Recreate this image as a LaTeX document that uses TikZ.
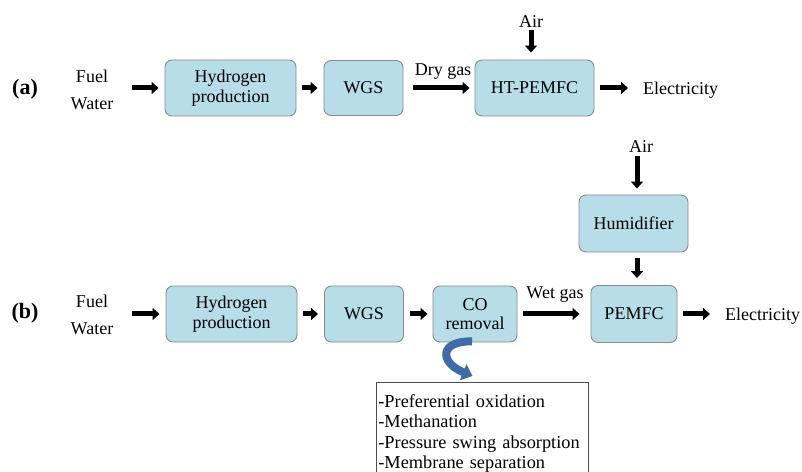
\documentclass[tikz,border=0pt]{standalone}
\usepackage{fontspec}
\setmainfont{Liberation Serif}
\usetikzlibrary{arrows.meta}
\definecolor{boxfill}{RGB}{183,221,232}
\definecolor{boxline}{RGB}{138,138,138}
\definecolor{curlblue}{RGB}{62,108,166}
\newcommand\diagfs{\fontsize{18bp}{19.5bp}\selectfont}
\newcommand\inputfs{\fontsize{18bp}{27bp}\selectfont}
\newcommand\listfs{\fontsize{18.3bp}{20.4bp}\selectfont}
\newcommand\partfs{\fontsize{22bp}{24bp}\selectfont\bfseries}
\begin{document}
\begin{tikzpicture}[x=1bp,y=-1bp,
  stage/.style={draw=boxline, fill=boxfill, line width=0.9bp, rounded corners=7bp,
    align=center, inner sep=0pt, font=\diagfs},
  lbl/.style={inner sep=0pt, font=\diagfs},
  feed/.style={inner sep=0pt, align=center, font=\inputfs},
  part/.style={inner sep=0pt, font=\partfs},
  arr/.style={line width=5bp, -{Triangle[length=7bp,width=12bp]}},
  curl/.style={line width=8bp, draw=curlblue, -{Triangle[length=10bp,width=17bp]}},
  methodbox/.style={draw=black!70, line width=0.8bp, fill=white, anchor=north west,
    align=left, text width=208bp, inner xsep=2bp, inner ysep=12bp, font=\listfs}
]
\clip (0,0) rectangle (802,472);
\fill[white] (0,0) rectangle (802,472);

% ---------- (a) HT-PEMFC route ----------
\node[part] (labelA) at (25,89) {(a)};
\node[feed] (inA) at (92,90) {Fuel\\Water};
\node[stage, minimum width=131bp, minimum height=56bp] (hpA) at (230.5,88) {Hydrogen\\production};
\node[stage, minimum width=79bp, minimum height=55bp] (wgsA) at (363.5,88) {WGS};
\node[stage, minimum width=119bp, minimum height=56bp] (htA) at (534.5,88) {HT-PEMFC};
\node[lbl, anchor=west] (elecA) at (643,90) {Electricity};
\node[lbl] (dryA) at (443,72) {Dry gas};
\node[lbl] (airA) at (531,22) {Air};

\draw[arr, shorten <=18.5bp, shorten >=6bp] (inA.east |- hpA.west) -- (hpA.west);
\draw[arr, shorten <=6bp, shorten >=6bp] (hpA.east) -- (wgsA.west);
\draw[arr, shorten <=10bp, shorten >=5bp] (wgsA.east) -- (htA.west);
\draw[arr, shorten <=6bp, shorten >=15bp] (htA.east) -- (htA.east -| elecA.west);
\draw[arr, shorten <=2bp, shorten >=7bp] (airA.south) -- (airA.south |- htA.north);

% ---------- (b) PEMFC route with CO clean-up ----------
\node[part] (labelB) at (25,313) {(b)};
\node[feed] (inB) at (92,315) {Fuel\\Water};
\node[stage, minimum width=131bp, minimum height=56bp] (hpB) at (231.5,314) {Hydrogen\\production};
\node[stage, minimum width=79bp, minimum height=56bp] (wgsB) at (364,314) {WGS};
\node[stage, minimum width=84bp, minimum height=56bp] (coB) at (475,314) {CO\\removal};
\node[stage, minimum width=86bp, minimum height=57bp] (pemB) at (634,314) {PEMFC};
\node[stage, minimum width=109bp, minimum height=57bp] (humB) at (633.5,223.5) {Humidifier};
\node[lbl, anchor=west] (elecB) at (725,316) {Electricity};
\node[lbl] (wetB) at (555,295) {Wet gas};
\node[lbl] (airB) at (641,147) {Air};

\draw[arr, shorten <=18.5bp, shorten >=6bp] (inB.east |- hpB.west) -- (hpB.west);
\draw[arr, shorten <=6bp, shorten >=6bp] (hpB.east) -- (wgsB.west);
\draw[arr, shorten <=6bp, shorten >=5bp] (wgsB.east) -- (coB.west);
\draw[arr, shorten <=6bp, shorten >=11bp] (coB.east) -- (pemB.west);
\draw[arr, shorten <=6bp, shorten >=15bp] (pemB.east) -- (pemB.east -| elecB.west);
\draw[arr, shorten <=3bp, shorten >=6bp] ([xshift=-4bp]airB.south) -- ([xshift=-4bp]airB.south |- humB.north);
\draw[arr, shorten <=6bp, shorten >=7bp] ([xshift=3.5bp]humB.south) -- ([xshift=3.5bp]humB.south |- pemB.north);

% ---------- CO removal options ----------
\node[methodbox] (methods) at (376,382) {-Preferential oxidation\\-Methanation\\-Pressure swing absorption\\-Membrane separation};
\draw[curl] ([xshift=-3bp,yshift=1bp]coB.south) .. controls +(-32,-1) and +(-34,-14) .. ([xshift=-10bp,yshift=6bp]methods.north);
\end{tikzpicture}
\end{document}
